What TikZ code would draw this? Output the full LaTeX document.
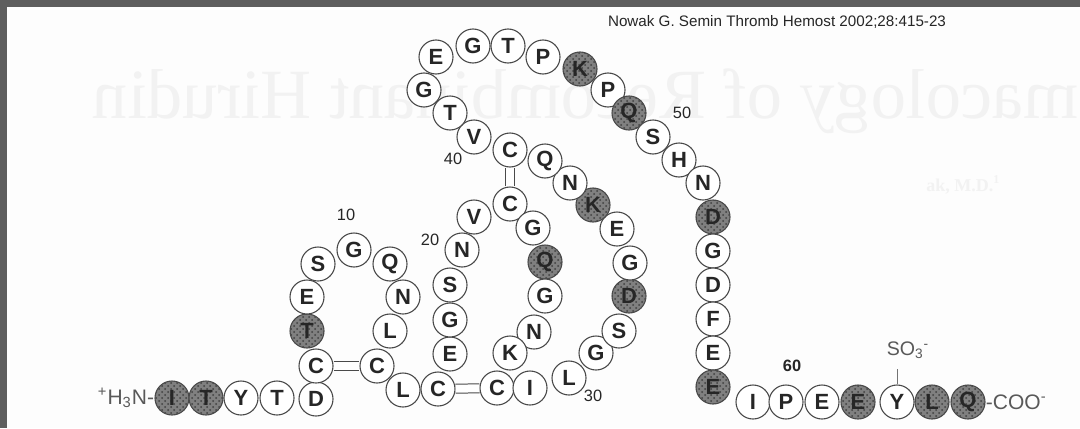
\documentclass[tikz,border=0pt]{standalone}
\usepackage{fontspec}
\setmainfont{Liberation Serif}
\setsansfont{Liberation Sans}
\usetikzlibrary{positioning, patterns}
\definecolor{hirInk}{HTML}{262626}
\definecolor{hirLine}{HTML}{4A4A4A}
\definecolor{hirShade}{HTML}{808080}
\definecolor{hirFrame}{HTML}{5E5E5E}
\definecolor{hirPaper}{HTML}{FDFDFD}
\definecolor{hirGhost}{HTML}{F2F2F2}

\begin{document}
\begin{tikzpicture}[
    x=0.5pt, y=-0.5pt,
    res/.style={circle, draw=hirLine, line width=0.55pt, fill=white,
                minimum size=17pt, inner sep=0pt, text=hirInk,
                font=\sffamily\bfseries\fontsize{11}{11}\selectfont},
    hot/.style={res, preaction={fill=hirShade}, pattern=crosshatch dots,
                pattern color=black!75},
    seqnum/.style={inner sep=0pt, text=hirInk,
                   font=\sffamily\fontsize{8.2}{8.2}\selectfont},
    tail/.style={inner sep=0pt, text=black!65,
                 font=\sffamily\fontsize{10.5}{10.5}\selectfont},
    ssbond/.style={draw=hirLine, double=white, double distance=4pt, line width=0.5pt},
  ]
    \useasboundingbox (0,0) rectangle (1080,428);
    \fill[hirPaper] (0,0) rectangle (1080,428);
    \fill[hirFrame] (0,0) rectangle (1080,7);
    \fill[hirFrame] (0,0) rectangle (7,428);

    % faint show-through from the slide behind
    \node[xscale=-1, anchor=base east, inner sep=0pt, text=hirGhost,
          font=\rmfamily\fontsize{35.3}{35.3}\selectfont] (ghost) at (92,118)
          {macology of Recombinant Hirudin};
    \node[anchor=base west, inner sep=0pt, text=hirGhost,
          font=\rmfamily\bfseries\fontsize{9}{9}\selectfont] (ghostauthor) at (926,191)
          {ak, M.D.\textsuperscript{1}};

    \node[inner sep=0pt, text=hirInk, font=\sffamily\fontsize{7.6}{7.6}\selectfont]
      (cite) at (777,22) {Nowak G. Semin Thromb Hemost 2002;28:415-23};

    % N-terminal strand
    \node[hot] (r1) at (172,398) {I};
    \node[hot] (r2) at (206,398) {T};
    \node[res] (r3) at (241,398) {Y};
    \node[res] (r4) at (277,398) {T};
    \node[res] (r5) at (316,399) {D};
    \node[res] (r6) at (316,366) {C};
    \node[hot] (r7) at (307,331) {T};
    \node[res] (r8) at (307,297) {E};
    \node[res] (r9) at (318,264) {S};
    \node[res] (r10) at (354,250) {G};
    \node[res] (r11) at (390,264) {Q};
    \node[res] (r12) at (403,297) {N};
    \node[res] (r13) at (390,331) {L};
    \node[res] (r14) at (377,366) {C};
    \node[res] (r15) at (403,390) {L};
    \node[res] (r16) at (438,389) {C};
    \node[res] (r17) at (450,354) {E};
    \node[res] (r18) at (450,320) {G};
    \node[res] (r19) at (450,285) {S};
    \node[res] (r20) at (462,250) {N};
    \node[res] (r21) at (474,217) {V};
    \node[res] (r22) at (510,204) {C};
    \node[res] (r23) at (533,228) {G};
    \node[hot] (r24) at (545,262) {Q};
    \node[res] (r25) at (545,296) {G};
    \node[res] (r26) at (534,332) {N};
    \node[res] (r27) at (510,353) {K};
    \node[res] (r28) at (497,388) {C};
    \node[res] (r29) at (530,388) {I};
    \node[res] (r30) at (569,378) {L};
    \node[res] (r31) at (596,353) {G};
    \node[res] (r32) at (619,331) {S};
    \node[hot] (r33) at (629,296) {D};
    \node[res] (r34) at (630,263) {G};
    \node[res] (r35) at (617,229) {E};
    \node[hot] (r36) at (593,205) {K};
    \node[res] (r37) at (570,183) {N};
    \node[res] (r38) at (545,161) {Q};
    \node[res] (r39) at (510,150) {C};
    \node[res] (r40) at (474,137) {V};
    \node[res] (r41) at (450,113) {T};
    \node[res] (r42) at (424,90) {G};
    \node[res] (r43) at (436,57) {E};
    \node[res] (r44) at (473,46) {G};
    \node[res] (r45) at (508,46) {T};
    \node[res] (r46) at (543,57) {P};
    \node[hot] (r47) at (580,69) {K};
    \node[res] (r48) at (608,90) {P};
    \node[hot] (r49) at (629,113) {Q};
    \node[res] (r50) at (653,137) {S};
    \node[res] (r51) at (679,160) {H};
    \node[res] (r52) at (703,183) {N};
    \node[hot] (r53) at (713,217) {D};
    \node[res] (r54) at (713,251) {G};
    \node[res] (r55) at (713,285) {D};
    \node[res] (r56) at (713,319) {F};
    \node[res] (r57) at (713,353) {E};
    \node[hot] (r58) at (713,387) {E};
    % C-terminal tail
    \node[res] (r59) at (753,402) {I};
    \node[res] (r60) at (786,402) {P};
    \node[res] (r61) at (822,402) {E};
    \node[hot] (r62) at (858,402) {E};
    \node[res] (r63) at (897,402) {Y};
    \node[hot] (r64) at (932,402) {L};
    \node[hot] (r65) at (968,402) {Q};

    % disulfide bridges
    \draw[ssbond] (r6) -- (r14);
    \draw[ssbond] (r16) -- (r28);
    \draw[ssbond] (r22) -- (r39);

    \node[tail, left=0pt of r1] (nterm) {\textsuperscript{+}H\textsubscript{3}N-};
    \node[tail, right=0pt of r65] (cterm) {-COO\textsuperscript{-}};
    \node[tail, font=\sffamily\fontsize{9.8}{9.8}\selectfont] (sulfo) at (908,350)
      {SO\textsubscript{3}\textsuperscript{-}};
    \draw[black!55, line width=0.4pt, shorten >=5pt] (r63) -- (r63 |- sulfo.south);

    \node[seqnum] (n10) at (346,215) {10};
    \node[seqnum] (n20) at (430,240) {20};
    \node[seqnum] (n30) at (593,396) {30};
    \node[seqnum] (n40) at (453,159) {40};
    \node[seqnum] (n50) at (682,113) {50};
    \node[seqnum, font=\sffamily\bfseries\fontsize{8.2}{8.2}\selectfont] (n60) at (792,366) {60};
  \end{tikzpicture}
\end{document}
